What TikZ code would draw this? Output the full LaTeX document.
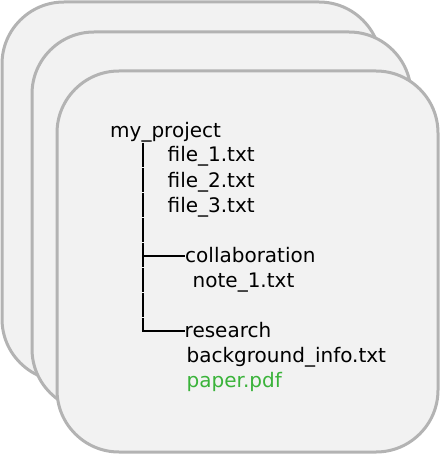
\documentclass[tikz,border=0pt]{standalone}
\usepackage{fontspec}
\setmainfont{DejaVu Sans}
\definecolor{cardfill}{HTML}{F2F2F2}
\definecolor{cardline}{HTML}{B3B3B3}
\definecolor{pdfgreen}{HTML}{3AB33A}
\begin{document}
\begin{tikzpicture}[x=1pt,y=-1pt,
  card/.style={draw=cardline,fill=cardfill,line width=3pt,rounded corners=62pt},
  entry/.style={anchor=base west,inner sep=0pt,font=\fontsize{20}{25}\selectfont},
  branch/.style={line width=2pt,black},
  trunkline/.style={branch,dash pattern=on 24pt off 1pt}]
\useasboundingbox (0,0) rectangle (441,454);

% stacked cards
\draw[card] (2,2) rectangle (381,381);
\draw[card] (32,32) rectangle (411,411);
\draw[card] (57,71) rectangle (438,452);

% folder tree entries
\node[entry] (root)   at (110,138) {my\_project};
\node[entry] (f1)     at (167.5,162) {file\_1.txt};
\node[entry] (f2)     at (167.5,187) {file\_2.txt};
\node[entry] (f3)     at (167.5,212) {file\_3.txt};
\node[entry] (collab) at (185,262) {collaboration};
\node[entry] (note)   at (192.5,287) {note\_1.txt};
\node[entry] (res)    at (184.5,337) {research};
\node[entry] (bg)     at (186.5,362) {background\_info.txt};
\node[entry,text=pdfgreen] (paper) at (186.5,387) {paper.pdf};

% tree branches
\coordinate (trunk) at (143,143);
\coordinate (collabjoin) at ([yshift=6pt]collab.base west);
\coordinate (resjoin) at ([yshift=6pt]res.base west);
\draw[trunkline] (trunk) -- (trunk |- resjoin);
\draw[branch] (trunk |- collabjoin) -- (collabjoin);
\draw[branch] ([xshift=-1pt]trunk |- resjoin) -- (resjoin);
\end{tikzpicture}
\end{document}
